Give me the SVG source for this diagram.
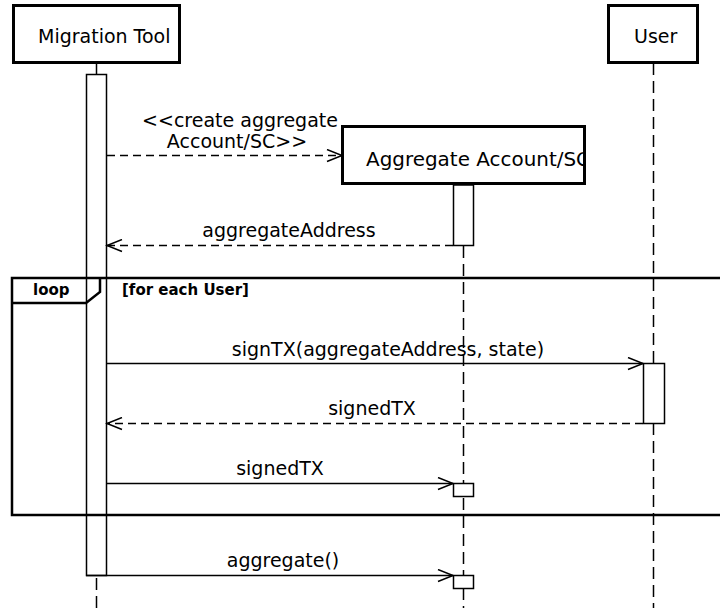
<svg xmlns="http://www.w3.org/2000/svg" width="720" height="608" viewBox="0 0 720 608">
<style>
text{font-family:"DejaVu Sans","Verdana",sans-serif;font-size:19px;fill:#000}
.b{font-weight:bold;font-size:15px}
.box{fill:#fff;stroke:#000;stroke-width:3}
.act{fill:#fff;stroke:#000;stroke-width:1.5}
.life{stroke:#000;stroke-width:1.5;stroke-dasharray:12,6;fill:none}
.msg{stroke:#000;stroke-width:1.5;fill:none}
.ret{stroke:#000;stroke-width:1.5;fill:none;stroke-dasharray:8,5}
.frame{fill:none;stroke:#000;stroke-width:2.5}
</style>
<defs>
<marker id="open" markerWidth="18" markerHeight="14" refX="16" refY="7" orient="auto" markerUnits="userSpaceOnUse">
<path d="M1,1 L16,7 L1,13" fill="none" stroke="#000" stroke-width="1.5"/>
</marker>
<clipPath id="aggclip"><rect x="342" y="126" width="242" height="58"/></clipPath>
</defs>
<g id="lifelines">
<line class="life" x1="96.5" y1="578" x2="96.5" y2="608"/>
<line class="life" x1="463.5" y1="246" x2="463.5" y2="608"/>
<line class="life" x1="653.5" y1="63" x2="653.5" y2="608"/>
</g>
<g id="migration-tool">
<line x1="96.5" y1="63" x2="96.5" y2="74" stroke="#000" stroke-width="1.5"/>
<rect class="box" x="13.5" y="5.5" width="166" height="57"/>
<text x="38" y="43">Migration Tool</text>
<rect class="act" x="86.5" y="74.5" width="20" height="501"/>
</g>
<g id="user">
<rect class="box" x="608.5" y="5.5" width="89" height="57"/>
<text x="634" y="43">User</text>
<rect class="act" x="643.5" y="363.5" width="21" height="60"/>
</g>
<g id="aggregate">
<rect class="box" x="342.5" y="126.5" width="242" height="57"/>
<text x="366" y="166" textLength="224" lengthAdjust="spacingAndGlyphs" clip-path="url(#aggclip)">Aggregate Account/SC</text>
<rect class="act" x="453.5" y="185" width="20" height="60.5"/>
<rect class="act" x="453.5" y="483.5" width="20" height="13"/>
<rect class="act" x="453.5" y="575.5" width="20" height="13"/>
</g>
<g id="loop-frame">
<rect class="frame" x="12" y="278" width="720" height="237"/>
<path class="frame" d="M12,303 L86,303 L100,292 L100,278"/>
<text class="b" x="33" y="295">loop</text>
<text class="b" x="122" y="295">[for each User]</text>
</g>
<g id="connectors">
<line class="ret" x1="107" y1="155.5" x2="342" y2="155.5" marker-end="url(#open)"/>
<text x="240" y="127" text-anchor="middle">&lt;&lt;create aggregate</text>
<text x="237" y="148" text-anchor="middle">Account/SC&gt;&gt;</text>
<line class="ret" x1="453" y1="245.5" x2="107" y2="245.5" marker-end="url(#open)"/>
<text x="289" y="237" text-anchor="middle">aggregateAddress</text>
<line class="msg" x1="107" y1="363.5" x2="643" y2="363.5" marker-end="url(#open)"/>
<text x="388" y="356" text-anchor="middle">signTX(aggregateAddress, state)</text>
<line class="ret" x1="643" y1="423.5" x2="107" y2="423.5" marker-end="url(#open)"/>
<text x="372" y="415" text-anchor="middle">signedTX</text>
<line class="msg" x1="107" y1="483.5" x2="453" y2="483.5" marker-end="url(#open)"/>
<text x="280" y="475" text-anchor="middle">signedTX</text>
<line class="msg" x1="86" y1="575.5" x2="453" y2="575.5" marker-end="url(#open)"/>
<text x="283" y="567" text-anchor="middle">aggregate()</text>
</g>
</svg>
